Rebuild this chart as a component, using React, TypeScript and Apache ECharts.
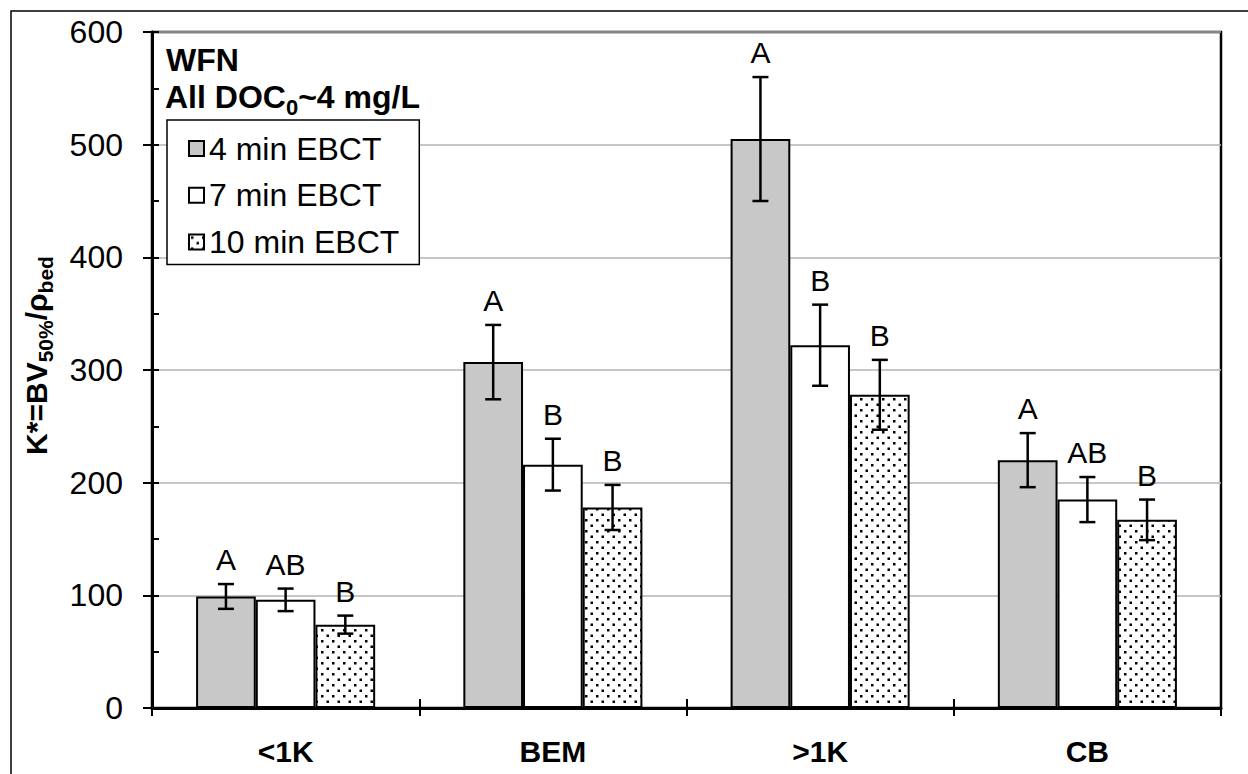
import React, { useEffect, useRef } from 'react';
import * as echarts from 'echarts';

const categories = ['<1K', 'BEM', '>1K', 'CB'];
const seriesNames = ['4 min EBCT', '7 min EBCT', '10 min EBCT'];
const values4 = [99, 307, 505, 220];
const values7 = [96, 216, 322, 185];
const values10 = [74, 178, 278, 167];
const errors4 = [11, 33, 55, 24];
const errors7 = [10, 23, 36, 20];
const errors10 = [8, 20, 31, 18];
const letters4 = ['A', 'A', 'A', 'A'];
const letters7 = ['AB', 'B', 'B', 'AB'];
const letters10 = ['B', 'B', 'B', 'B'];
const yMin = 0;
const yMax = 600;
const yStep = 100;
const yMinorStep = 50;

// text pieces: [text, isSubscript]
const noteLine1 = 'WFN';
const noteLine2: [string, boolean][] = [['All DOC', false], ['0', true], ['~4 mg/L', false]];
const yTitle: [string, boolean][] = [['K*=BV', false], ['50%', true], ['/ρ', false], ['bed', true]];

const FONT = '"Liberation Sans", Arial, Helvetica, sans-serif';
// central baseline offset for Liberation Sans (ascent .905, descent .212)
const CENTRAL = 0.3465;

export default function App() {
  const ref = useRef<HTMLDivElement>(null);
  useEffect(() => {
    document.body.style.margin = '0';
    if (!ref.current) return;
    const chart = echarts.init(ref.current, undefined, { renderer: 'svg' });

    const cv = document.createElement('canvas');
    cv.width = 11;
    cv.height = 11;
    const ctx = cv.getContext('2d')!;
    ctx.fillStyle = '#ffffff';
    ctx.fillRect(0, 0, 11, 11);
    ctx.fillStyle = '#000000';
    ctx.fillRect(2, 2, 2.5, 2.5);
    ctx.fillRect(7.5, 7.5, 2.5, 2.5);
    const dots: any = { image: cv, repeat: 'repeat', imageWidth: 11, imageHeight: 11 };

    const mc = document.createElement('canvas').getContext('2d')!;
    const measure = (t: string, size: number) => {
      mc.font = `bold ${size}px ${FONT}`;
      return mc.measureText(t).width;
    };

    const vals = [values4, values7, values10];
    const errs = [errors4, errors7, errors10];
    const lets = [letters4, letters7, letters10];
    const colors: any[] = ['#c8c8c8', '#ffffff', dots];

    const errData: number[][] = [];
    for (let s = 0; s < 3; s++) {
      for (let i = 0; i < categories.length; i++) {
        errData.push([i, s, vals[s][i], errs[s][i]]);
      }
    }

    const barSeries = seriesNames.map((name, s) => ({
      name,
      type: 'bar',
      data: vals[s],
      barGap: '0%',
      barCategoryGap: '33%',
      itemStyle: { color: colors[s], borderColor: '#000', borderWidth: 2 },
      z: 2,
    }));

    const lineStyle = { stroke: '#000', lineWidth: 2.5 };

    // note line 2 (horizontal, subscripts lowered)
    const mainSize2 = 32, subSize2 = 22;
    const base2 = 108, subBase2 = 115;
    let xCur = 165;
    const note2Children: any[] = noteLine2.map(([t, sub]) => {
      const size = sub ? subSize2 : mainSize2;
      const base = sub ? subBase2 : base2;
      const el = {
        type: 'text', x: xCur, y: base - CENTRAL * size, z: 10,
        style: { text: t, fill: '#000', fontSize: size, fontWeight: 'bold', fontFamily: FONT, align: 'left', verticalAlign: 'middle' },
      };
      xCur += measure(t, size);
      return el;
    });

    // y title (rotated 90deg anticlockwise: local +x -> screen up, local +y -> screen right)
    const mainSizeY = 30, subSizeY = 21;
    const baseY = 47, subBaseY = 53;
    const totalY = yTitle.reduce((a, [t, sub]) => a + measure(t, sub ? subSizeY : mainSizeY), 0);
    let lx = 0;
    const yTitleChildren: any[] = yTitle.map(([t, sub]) => {
      const size = sub ? subSizeY : mainSizeY;
      const base = sub ? subBaseY : baseY;
      const el = {
        type: 'text', x: lx, y: base - CENTRAL * size,
        style: { text: t, fill: '#000', fontSize: size, fontWeight: 'bold', fontFamily: FONT, align: 'left', verticalAlign: 'middle' },
      };
      lx += measure(t, size);
      return el;
    });

    const option: any = {
      animation: false,
      backgroundColor: '#fff',
      grid: {
        left: 152, right: 27, top: 32, bottom: 66,
        show: true, borderColor: '#000', borderWidth: 2.5, backgroundColor: '#fff',
      },
      legend: {
        orient: 'vertical', left: 167, top: 120,
        data: seriesNames,
        icon: 'rect', itemWidth: 15, itemHeight: 15, itemGap: 13.7,
        backgroundColor: '#fff', borderColor: '#000', borderWidth: 1.5, borderRadius: 0,
        padding: [12, 20, 6, 21],
        textStyle: { fontSize: 32, color: '#000', fontFamily: FONT, lineHeight: 33 },
        itemStyle: { borderColor: '#000', borderWidth: 2 },
      },
      xAxis: [
        {
          type: 'category', data: categories,
          axisLine: { lineStyle: { color: '#000', width: 3 } },
          axisTick: { show: true, length: 8, lineStyle: { color: '#000', width: 2 } },
          axisLabel: { fontSize: 30, fontWeight: 'bold', color: '#000', margin: 28, fontFamily: FONT },
          splitLine: { show: false },
        },
        {
          type: 'category', data: categories, position: 'bottom',
          axisLine: { show: false },
          axisTick: { show: true, inside: true, length: 9, lineStyle: { color: '#000', width: 2 } },
          axisLabel: { show: false },
          splitLine: { show: false },
        },
      ],
      yAxis: [
        {
          type: 'value', min: yMin, max: yMax, interval: yStep,
          axisLine: { show: true, lineStyle: { color: '#000', width: 3 } },
          axisTick: { show: true, length: 9, lineStyle: { color: '#000', width: 2 } },
          axisLabel: { fontSize: 32, color: '#000', margin: 29, fontFamily: FONT },
          splitLine: { show: true, lineStyle: { color: '#b3b3b3', width: 1.5 } },
        },
        {
          type: 'value', min: yMin, max: yMax, interval: yMinorStep, position: 'left',
          axisLine: { show: false },
          axisTick: { show: true, inside: true, length: 7, lineStyle: { color: '#000', width: 2 } },
          axisLabel: { show: false },
          splitLine: { show: false },
        },
      ],
      series: [
        ...barSeries,
        {
          type: 'custom',
          name: 'err',
          xAxisIndex: 0,
          yAxisIndex: 0,
          z: 5,
          encode: { x: 0, y: 2 },
          data: errData,
          renderItem: (params: any, api: any) => {
            const cat = api.value(0);
            const s = api.value(1);
            const v = api.value(2);
            const e = api.value(3);
            const band = api.size([1, 0])[0];
            const barW = (band * (1 - 0.33)) / 3;
            const base = api.coord([cat, 0]);
            const cx = base[0] + (s - 1) * barW;
            const top = api.coord([cat, v + e])[1];
            const bot = api.coord([cat, v - e])[1];
            const half = 8;
            const letterBase = top - 14;
            return {
              type: 'group',
              children: [
                { type: 'line', shape: { x1: cx, y1: top, x2: cx, y2: bot }, style: lineStyle },
                { type: 'line', shape: { x1: cx - half, y1: top, x2: cx + half, y2: top }, style: lineStyle },
                { type: 'line', shape: { x1: cx - half, y1: bot, x2: cx + half, y2: bot }, style: lineStyle },
                {
                  type: 'text', x: cx, y: letterBase - CENTRAL * 30,
                  style: {
                    text: lets[s][cat], fill: '#000', fontSize: 30, fontFamily: FONT,
                    align: 'center', verticalAlign: 'middle',
                  },
                },
              ],
            };
          },
        },
      ],
      graphic: [
        {
          type: 'rect', z: -10, silent: true,
          shape: { x: 11, y: 11, width: 1300, height: 800 },
          style: { fill: 'none', stroke: '#000', lineWidth: 1.5 },
        },
        {
          type: 'text', x: 166, y: 71.5 - CENTRAL * 32, z: 10,
          style: { text: noteLine1, fill: '#000', fontSize: 32, fontWeight: 'bold', fontFamily: FONT, align: 'left', verticalAlign: 'middle' },
        },
        { type: 'group', x: 0, y: 0, z: 10, children: note2Children },
        {
          type: 'group', x: 0, y: 355.5 + totalY / 2, rotation: Math.PI / 2, z: 10,
          children: yTitleChildren,
        },
      ],
    };
    chart.setOption(option);
    return () => chart.dispose();
  }, []);
  return <div ref={ref} style={{ width: 1248, height: 774 }} />;
}
